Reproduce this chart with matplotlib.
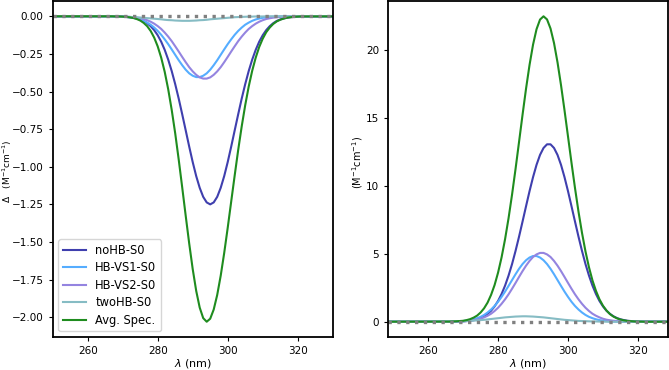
"""plot.py

Computed CD (left) and UV absorption (right) spectra of the conformers and
the averaged spectrum.
"""
import matplotlib.pyplot as plt

# -- DATA
wl = [240] + list(range(266, 323)) + [340]   # wavelength grid (nm)

labels = ['noHB-S0', 'HB-VS1-S0', 'HB-VS2-S0', 'twoHB-S0', 'Avg. Spec.']
colors = ['#3f3fae', '#55adff', '#9484e0', '#86bcc4', '#1f8c1f']

# CD, 266..322 nm
cd_noHB = [0.0,
    -0.000, -0.000, -0.001, -0.001, -0.002, -0.004, -0.006, -0.009, -0.014, -0.021,
    -0.031, -0.046, -0.066, -0.092, -0.126, -0.169, -0.223, -0.288, -0.364, -0.451,
    -0.547, -0.651, -0.758, -0.866, -0.969, -1.062, -1.140, -1.200, -1.237, -1.250,
    -1.237, -1.200, -1.140, -1.062, -0.969, -0.866, -0.758, -0.651, -0.547, -0.451,
    -0.364, -0.288, -0.223, -0.169, -0.126, -0.092, -0.066, -0.046, -0.031, -0.021,
    -0.014, -0.009, -0.006, -0.004, -0.002, -0.001, -0.001,
    0.0]
cd_VS1 = [0.0,
    -0.000, -0.001, -0.001, -0.002, -0.003, -0.004, -0.007, -0.010, -0.015, -0.021,
    -0.030, -0.042, -0.056, -0.075, -0.097, -0.123, -0.153, -0.185, -0.220, -0.256,
    -0.292, -0.325, -0.355, -0.379, -0.395, -0.404, -0.404, -0.395, -0.379, -0.355,
    -0.325, -0.292, -0.256, -0.220, -0.185, -0.153, -0.123, -0.097, -0.075, -0.056,
    -0.042, -0.030, -0.021, -0.015, -0.010, -0.007, -0.004, -0.003, -0.002, -0.001,
    -0.001, 0.000, 0.000, 0.000, 0.000, 0.000, 0.000,
    0.0]
cd_VS2 = [0.0,
    -0.000, -0.000, -0.001, -0.001, -0.001, -0.002, -0.004, -0.006, -0.009, -0.013,
    -0.018, -0.026, -0.036, -0.049, -0.065, -0.084, -0.108, -0.135, -0.165, -0.199,
    -0.234, -0.270, -0.305, -0.338, -0.366, -0.389, -0.406, -0.414, -0.414, -0.406,
    -0.389, -0.366, -0.338, -0.305, -0.270, -0.234, -0.199, -0.165, -0.135, -0.108,
    -0.084, -0.065, -0.049, -0.036, -0.026, -0.018, -0.013, -0.009, -0.006, -0.004,
    -0.002, -0.001, -0.001, -0.001, -0.000, 0.000, 0.000,
    0.0]
cd_two = [0.0,
    -0.001, -0.001, -0.001, -0.002, -0.002, -0.003, -0.004, -0.005, -0.006, -0.008,
    -0.010, -0.012, -0.014, -0.016, -0.018, -0.020, -0.023, -0.025, -0.026, -0.028,
    -0.029, -0.030, -0.030, -0.030, -0.029, -0.028, -0.026, -0.025, -0.023, -0.020,
    -0.018, -0.016, -0.014, -0.012, -0.010, -0.008, -0.006, -0.005, -0.004, -0.003,
    -0.002, -0.002, -0.001, -0.001, -0.001, 0.000, 0.000, 0.000, 0.000, 0.000,
    0.000, 0.000, 0.000, 0.000, 0.000, 0.000, 0.000,
    0.0]
cd_avg = [0.0,
    -0.000, -0.000, -0.001, -0.001, -0.002, -0.004, -0.007, -0.011, -0.018, -0.028,
    -0.044, -0.066, -0.098, -0.142, -0.200, -0.275, -0.369, -0.485, -0.622, -0.778,
    -0.952, -1.137, -1.326, -1.510, -1.680, -1.825, -1.936, -2.006, -2.030, -2.010,
    -1.949, -1.852, -1.724, -1.573, -1.406, -1.231, -1.057, -0.888, -0.732, -0.591,
    -0.467, -0.362, -0.275, -0.204, -0.149, -0.106, -0.075, -0.051, -0.034, -0.023,
    -0.015, -0.009, -0.006, -0.003, -0.002, -0.001, -0.001,
    0.0]

# absorption, 266..322 nm
uv_noHB = [0.0,
    0.00, 0.01, 0.01, 0.02, 0.03, 0.05, 0.07, 0.12, 0.18, 0.27,
    0.40, 0.58, 0.81, 1.13, 1.53, 2.04, 2.66, 3.40, 4.25, 5.22,
    6.27, 7.38, 8.51, 9.62, 10.65, 11.56, 12.29, 12.80, 13.07, 13.07,
    12.80, 12.29, 11.56, 10.65, 9.62, 8.51, 7.38, 6.27, 5.22, 4.25,
    3.40, 2.66, 2.04, 1.53, 1.13, 0.81, 0.58, 0.40, 0.27, 0.18,
    0.12, 0.07, 0.05, 0.03, 0.02, 0.01, 0.01,
    0.0]
uv_VS1 = [0.0,
    0.01, 0.01, 0.02, 0.03, 0.05, 0.08, 0.12, 0.18, 0.26, 0.36,
    0.50, 0.68, 0.90, 1.16, 1.47, 1.83, 2.22, 2.64, 3.07, 3.50,
    3.90, 4.25, 4.53, 4.73, 4.84, 4.84, 4.73, 4.53, 4.25, 3.90,
    3.50, 3.07, 2.64, 2.22, 1.83, 1.47, 1.16, 0.90, 0.68, 0.50,
    0.36, 0.26, 0.18, 0.12, 0.08, 0.05, 0.03, 0.02, 0.01, 0.01,
    0.00, 0.00, 0.00, 0.00, 0.00, 0.00, 0.00,
    0.0]
uv_VS2 = [0.0,
    0.00, 0.01, 0.01, 0.02, 0.03, 0.05, 0.07, 0.11, 0.15, 0.22,
    0.32, 0.44, 0.59, 0.79, 1.03, 1.32, 1.65, 2.02, 2.43, 2.86,
    3.30, 3.73, 4.13, 4.48, 4.77, 4.96, 5.07, 5.07, 4.96, 4.77,
    4.48, 4.13, 3.73, 3.30, 2.86, 2.43, 2.02, 1.65, 1.32, 1.03,
    0.79, 0.59, 0.44, 0.32, 0.22, 0.15, 0.11, 0.07, 0.05, 0.03,
    0.02, 0.01, 0.01, 0.00, 0.00, 0.00, 0.00,
    0.0]
uv_two = [0.0,
    0.01, 0.02, 0.02, 0.03, 0.04, 0.05, 0.06, 0.08, 0.10, 0.12,
    0.14, 0.17, 0.20, 0.23, 0.26, 0.29, 0.32, 0.34, 0.36, 0.38,
    0.39, 0.40, 0.40, 0.39, 0.38, 0.36, 0.34, 0.32, 0.29, 0.26,
    0.23, 0.20, 0.17, 0.14, 0.12, 0.10, 0.08, 0.06, 0.05, 0.04,
    0.03, 0.02, 0.02, 0.01, 0.01, 0.00, 0.00, 0.00, 0.00, 0.00,
    0.00, 0.00, 0.00, 0.00, 0.00, 0.00, 0.00,
    0.0]
uv_avg = [0.0,
    0.01, 0.02, 0.03, 0.05, 0.07, 0.12, 0.19, 0.30, 0.45, 0.68,
    0.99, 1.41, 1.98, 2.70, 3.62, 4.74, 6.08, 7.63, 9.37, 11.26,
    13.25, 15.25, 17.17, 18.92, 20.41, 21.55, 22.26, 22.50, 22.27, 21.60,
    20.53, 19.11, 17.43, 15.58, 13.65, 11.71, 9.85, 8.11, 6.55, 5.18,
    4.01, 3.04, 2.27, 1.65, 1.18, 0.83, 0.56, 0.38, 0.25, 0.16,
    0.10, 0.06, 0.04, 0.02, 0.01, 0.01, 0.00,
    0.0]

xticks = [260, 280, 300, 320]


def main():
    # -- PART 1: FIGURE AND AXES
    plt.rcParams['font.size'] = 8
    fig = plt.figure(figsize=(6.69, 3.70), dpi=100)
    ax1 = fig.add_axes([0.0788, 0.0892, 0.4185, 0.9080])
    ax2 = fig.add_axes([0.5804, 0.0892, 0.4181, 0.9080])

    # -- PART 2: CURVES
    cd = [cd_noHB, cd_VS1, cd_VS2, cd_two, cd_avg]
    uv = [uv_noHB, uv_VS1, uv_VS2, uv_two, uv_avg]
    for ys, lab, c in zip(cd, labels, colors):
        ax1.plot(wl, ys, color=c, lw=1.5, label=lab)
    for ys, lab, c in zip(uv, labels, colors):
        ax2.plot(wl, ys, color=c, lw=1.5, label=lab)

    # -- PART 3: DECORATION
    for ax in (ax1, ax2):
        ax.axhline(0, color='#808080', ls=':', lw=2.4)
        ax.set_xticks(xticks)
        ax.set_xlabel(r'$\lambda$ (nm)', labelpad=1)
        ax.tick_params(labelsize=7.5, length=3)
        for sp in ax.spines.values():
            sp.set_linewidth(1.3)
    ax1.set_xlim(250, 330)
    ax2.set_xlim(248.6, 328.6)
    # label x = right edge of the rotated text
    ax1.set_ylabel(r'$\Delta$   (M$^{-1}$cm$^{-1}$)', fontsize=6.5)
    ax1.yaxis.set_label_coords(-0.14, 0.493)
    ax2.set_ylabel(r'(M$^{-1}$cm$^{-1}$)', fontsize=7)
    ax2.yaxis.set_label_coords(-0.084, 0.519)
    ax1.legend(loc='lower left', fontsize=8.3, labelspacing=0.38)

    fig.savefig('out.png', dpi=100)


main()
